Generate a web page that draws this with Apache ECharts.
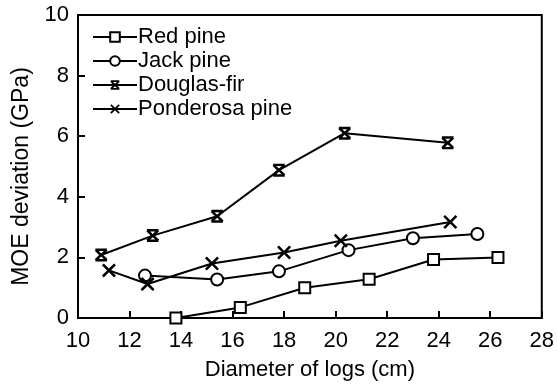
<!DOCTYPE html>
<html>
<head>
<meta charset="utf-8">
<script src="https://cdn.jsdelivr.net/npm/echarts@6/dist/echarts.min.js"></script>
<style>
  html, body { margin: 0; padding: 0; background: #fff; }
  #chart { width: 557px; height: 387px; }
</style>
</head>
<body>
<div id="chart"></div>
<script>
// values: [diameter (cm), MOE deviation (GPa)]
let redPine = [[13.8, 0.0], [16.3, 0.35], [18.8, 1.0], [21.3, 1.28], [23.8, 1.93], [26.3, 2.0]];
let jackPine = [[12.6, 1.4], [15.4, 1.27], [17.8, 1.54], [20.5, 2.24], [23.0, 2.63], [25.5, 2.77]];
let douglasFir = [[10.9, 2.08], [12.9, 2.72], [15.4, 3.36], [17.8, 4.88], [20.35, 6.1], [24.35, 5.78]];
let ponderosaPine = [[11.2, 1.57], [12.7, 1.12], [15.2, 1.8], [18.0, 2.16], [20.2, 2.55], [24.45, 3.17]];

let xTicks = [10, 28, 2];   // min, max, step
let yTicks = [0, 10, 2];

const FONT = 'Liberation Sans, Arial, sans-serif';

// marker shapes
const xMark = 'path://M0,1.3L1.3,0L5,3.7L8.7,0L10,1.3L6.3,5L10,8.7L8.7,10L5,6.3L1.3,10L0,8.7L3.7,5Z';
// X with short caps top and bottom (all sub-paths clockwise so they union)
const cappedX = 'path://M0.5,1.7L2.2,0.8L5,3.8L7.8,0.8L9.5,1.7L6.4,5L9.5,8.3L7.8,9.2L5,6.2L2.2,9.2L0.5,8.3L3.6,5Z'
    + 'M1,0L9,0L9,1.9L1,1.9Z M1,8.1L9,8.1L9,10L1,10Z';

function makeSeries(name, data, symbol, size, filled){
    return {
        name: name,
        type: 'line',
        data: data,
        symbol: symbol,
        symbolSize: size,
        showAllSymbol: true,
        lineStyle: { color: '#000', width: 2 },
        itemStyle: {
            color: filled ? '#000' : '#fff',
            borderColor: '#000',
            borderWidth: filled ? 0 : 2
        },
        emphasis: { disabled: true },
        z: 3
    };
}

let chart = echarts.init(document.getElementById('chart'));

let options = {
    backgroundColor: '#fff',
    animation: false,
    textStyle: { fontFamily: FONT, color: '#000' },
    grid: {
        left: 78, top: 15, right: 10, bottom: 69,
        show: true, borderColor: '#000', borderWidth: 2,
        containLabel: false
    },
    legend: {
        orient: 'vertical',
        left: 87, top: 21,
        itemWidth: 44, itemHeight: 12, itemGap: 2,
        textStyle: { fontSize: 22, color: '#000', fontFamily: FONT, padding: [0, 0, 0, -4] },
        data: ['Red pine', 'Jack pine', 'Douglas-fir', 'Ponderosa pine']
    },
    xAxis: {
        type: 'value',
        min: xTicks[0], max: xTicks[1], interval: xTicks[2],
        name: 'Diameter of logs (cm)',
        nameLocation: 'middle', nameGap: 41,
        nameTextStyle: { fontSize: 22, color: '#000', fontFamily: FONT },
        axisLine: { lineStyle: { color: '#000', width: 2 } },
        axisTick: { inside: true, length: 7, lineStyle: { color: '#000', width: 2 } },
        axisLabel: { fontSize: 22, color: '#000', margin: 12, fontFamily: FONT },
        splitLine: { show: false }
    },
    yAxis: {
        type: 'value',
        min: yTicks[0], max: yTicks[1], interval: yTicks[2],
        name: 'MOE deviation (GPa)',
        nameLocation: 'middle', nameGap: 44,
        nameTextStyle: { fontSize: 23, color: '#000', fontFamily: FONT, padding: [0, 0, 0, -20] },
        axisLine: { lineStyle: { color: '#000', width: 2 } },
        axisTick: { inside: true, length: 7, lineStyle: { color: '#000', width: 2 } },
        axisLabel: { fontSize: 22, color: '#000', margin: 9, fontFamily: FONT },
        splitLine: { show: false }
    },
    series: [
        makeSeries('Red pine', redPine, 'rect', 11, false),
        makeSeries('Jack pine', jackPine, 'circle', 12, false),
        makeSeries('Douglas-fir', douglasFir, cappedX, 13, true),
        makeSeries('Ponderosa pine', ponderosaPine, xMark, 14, true)
    ]
};

chart.setOption(options);
</script>
</body>
</html>
